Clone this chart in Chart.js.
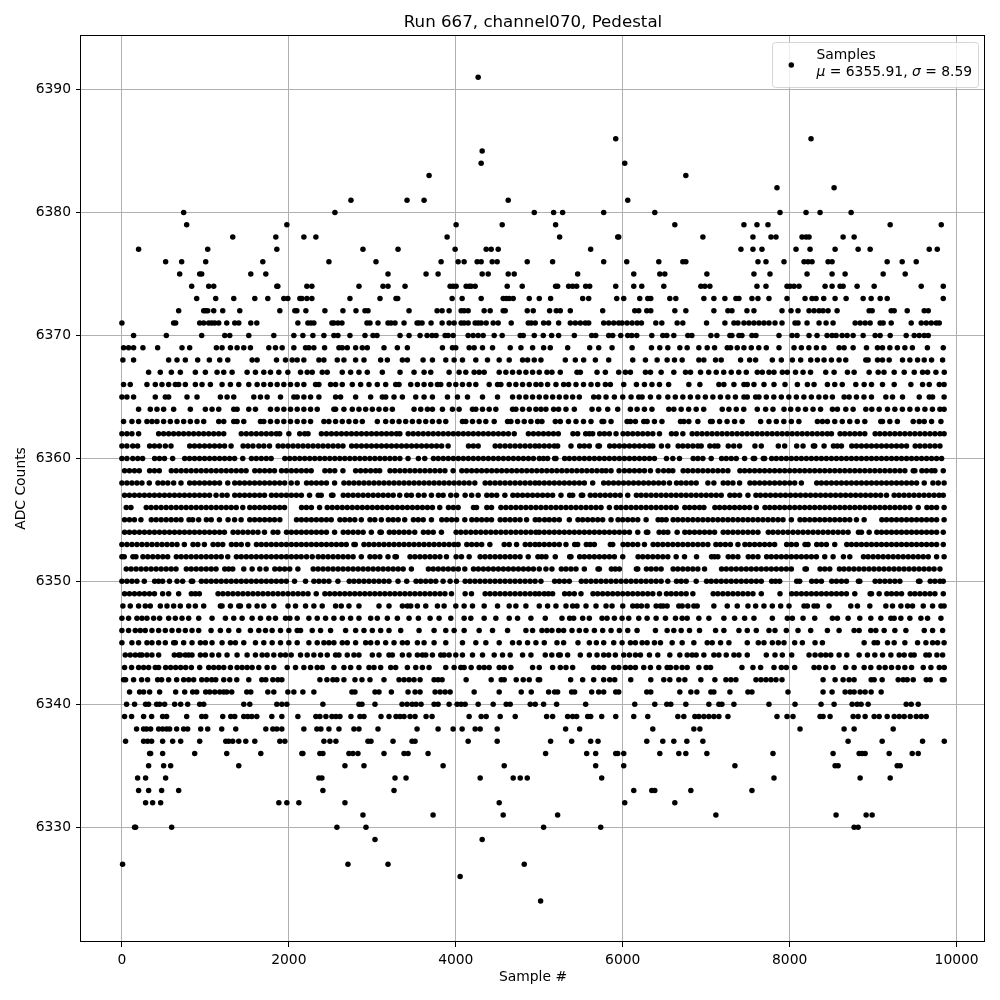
<!DOCTYPE html>
<html>
<head>
<meta charset="utf-8">
<title>Run 667, channel070, Pedestal</title>
<script src="https://cdn.jsdelivr.net/npm/chart.js@4"></script>
<style>
  html, body { margin: 0; padding: 0; background: #fff; }
  canvas { display: block; }
</style>
</head>
<body>
<canvas id="myChart" width="1000" height="1000"></canvas>
<script>
const xTickValues = [0, 2000, 4000, 6000, 8000, 10000];
const yTickValues = [6330, 6340, 6350, 6360, 6370, 6380, 6390];
const seriesLabel = "Samples";
const muText = "6355.91";
const sigmaText = "8.59";

// sample numbers, one list per ADC level
const s6391 = [4268];
const s6386 = [5916,8256];
const s6385 = [4316];
const s6384 = [4304,6024];
const s6383 = [3680,6756];
const s6382 = [7848,8532];
const s6381 = [2744,3416,3620,4628,6060];
const s6380 = [740,2552,4940,5172,5280,5772,6384,7884,8196,8364,8736];
const s6379 = [776,1976,4004,4556,5196,6624,7452,7608,7740,9204,9816];
const s6378 = [1328,1844,2180,2324,3896,5244,5940,5952,6960,7560,7776,7836,8148,8196,8232,8640,8772];
const s6377 = [200,1028,1856,2888,3308,3992,4364,4424,4508,5616,7416,7560,7668,8076,8244,8544,8820,8964,9672,9768];
const s6376 = [524,716,1004,1688,2480,3044,3824,4028,4100,4256,4304,4436,4496,4856,5160,5772,6048,6432,6720,6756,7620,7716,7932,8172,8220,8268,8460,8508,9168,9348,9516];
const s6375 = [692,932,956,1544,1724,3188,3644,3788,4316,4388,4628,4700,5460,6132,6444,6504,7008,7572,7764,8208,8508,8664,9120,9384];
const s6374 = [836,1040,1100,1856,1868,2216,2276,2840,3128,3188,3392,3932,3968,4004,4124,4160,4184,4232,4616,4796,5196,5220,5352,5400,5448,5556,5604,5916,6132,6228,6492,6936,6984,7044,7608,7716,7968,8004,8052,8112,8424,8508,8604,8640,8808,9012,9576,9840];
const s6373 = [896,1124,1340,1592,1748,1940,1988,2132,2156,2216,2276,2732,3092,3284,3304,3956,4076,4304,4568,4604,4640,4688,4880,5000,5136,5520,5592,5928,6012,6204,6300,6336,6564,6636,6972,7092,7224,7356,7392,7548,7620,7752,7968,8184,8268,8316,8408,8544,8676,8880,8976,9084,9168,9840];
const s6372 = [680,980,1004,1028,1100,1208,1412,1892,2072,2096,2204,2432,2648,2804,2912,2948,3440,3776,3836,3920,4064,4100,4148,4340,4412,4568,4592,4856,4928,5124,5204,5252,5372,5760,6144,6192,6288,6336,6624,6756,7092,7260,7308,7488,7572,7908,8016,8100,8232,8292,8352,8400,8460,8568,8952,8988,9216,9252,9408,9612,9660];
const s6371 = [0,620,644,932,980,1040,1076,1112,1160,1256,1352,1400,1544,1616,2108,2228,2264,2300,2516,2540,2588,2636,2936,2972,3068,3188,3224,3272,3380,3536,3560,3596,3704,3836,3920,3980,4064,4100,4148,4232,4268,4304,4364,4448,4508,4664,4868,4904,4952,5052,5112,5232,5372,5432,5492,5552,5592,5772,5832,5892,5952,5992,6052,6112,6172,6224,6396,6468,6652,6720,7004,7224,7332,7380,7452,7512,7572,7632,7692,7752,7824,7908,8064,8100,8208,8352,8436,8520,8784,8844,8904,8964,9084,9120,9216,9456,9576,9636,9696,9756,9792];
const s6370 = [140,532,956,1232,1292,1520,1820,2060,2168,2288,2420,2540,2588,2732,2912,3008,3056,3332,3440,3572,3656,3716,3764,3872,3908,3968,4148,4208,4268,4328,4460,4556,4772,4808,4940,5048,5148,5232,5420,5628,5676,5832,5880,5976,6060,6108,6168,6348,6480,6528,6612,6780,6828,7056,7128,7284,7308,7392,7428,7548,7596,7872,8028,8088,8232,8328,8448,8508,8556,8628,8688,8760,8880,9024,9084,9204,9396,9492,9552,9612,9660];
const s6369 = [20,80,140,252,428,720,812,1132,1200,1300,1380,1460,1540,1760,1840,1920,2060,2200,2240,2300,2428,2600,2640,2700,2800,2880,2940,3140,3300,3420,3840,3960,4000,4160,4220,4320,4440,4652,4780,4920,5052,5132,5340,5604,5712,5872,6112,6344,6444,6540,6684,6772,6912,7012,7100,7252,7292,7372,7452,7540,7630,7720,7872,8052,8140,8230,8320,8410,8592,8652,8760,8920,9052,9112,9200,9290,9380,9470,9650,9840];
const s6368 = [12,140,560,660,760,908,1048,1172,1268,1560,1620,1852,1960,2040,2100,2180,2360,2420,2580,2660,2800,2900,3100,3180,3360,3420,3608,3720,3880,3980,4080,4240,4380,4520,4640,4800,4860,4940,5020,5312,5432,5532,5672,5832,6120,6272,6412,6532,6620,6712,6912,6972,7112,7180,7412,7520,7592,7792,7900,8032,8132,8252,8332,8412,8500,8592,8672,8940,8912,9052,9112,9192,9352,9440,9532,9612,9700,9832];
const s6367 = [320,460,592,700,880,1000,1140,1220,1320,1500,1600,1700,1780,1880,1988,2140,2220,2280,2400,2460,2640,2740,2840,2940,3120,3332,3500,3620,3700,3920,4040,4120,4220,4280,4340,4520,4600,4680,4760,4840,4920,5000,5092,5152,5252,5452,5492,5692,5792,5952,6032,6092,6272,6332,6460,6612,6752,6812,6932,7030,7120,7210,7300,7390,7480,7612,7672,7752,7812,7912,7972,8070,8160,8250,8432,8532,8692,8772,8952,9060,9130,9252,9372,9492,9592,9652,9752,9852];
const s6366 = [20,100,300,400,480,560,640,680,760,880,960,1060,1200,1300,1400,1520,1620,1700,1780,1860,1940,2020,2100,2180,2320,2360,2500,2560,2640,2760,2860,2960,3060,3160,3280,3320,3460,3540,3620,3700,3780,3820,3920,4000,4080,4160,4240,4400,4500,4540,4640,4720,4800,4880,4960,5020,5100,5200,5292,5352,5440,5530,5620,5700,5792,5852,6012,6164,6260,6350,6440,6550,6792,6924,7152,7212,7332,7452,7492,7572,7692,7812,7944,8092,8212,8292,8452,8540,8630,8792,8892,8980,9112,9252,9452,9592,9672,9792,9850];
const s6365 = [0,60,140,400,520,560,780,900,1180,1260,1340,1580,1660,1740,1900,2060,2100,2180,2260,2360,2560,2620,2800,2980,3120,3160,3260,3360,3520,3620,3720,3900,4020,4140,4320,4500,4680,4760,4840,4920,5000,5080,5160,5240,5320,5400,5480,5652,5712,5800,5900,6000,6100,6192,6232,6332,6432,6540,6630,6720,6810,6900,6990,7080,7170,7260,7350,7452,7492,7592,7632,7720,7810,7900,7990,8080,8170,8260,8350,8430,8512,8652,8712,8800,8890,8980,9152,9232,9352,9552,9672,9712,9850];
const s6364 = [200,340,420,500,620,820,1000,1080,1160,1340,1380,1520,1600,1780,1860,1940,2020,2100,2180,2260,2340,2540,2560,2660,2760,2840,2920,3000,3080,3160,3240,3500,3580,3660,3720,3840,3960,4040,4200,4240,4320,4400,4480,4680,4720,4800,4880,4960,5020,5080,5172,5232,5320,5420,5632,5712,5820,5940,6092,6172,6260,6350,6552,6612,6700,6790,6880,6970,7192,7272,7360,7450,7612,7712,7800,7932,8012,8100,8190,8280,8370,8512,8572,8672,8760,8912,8984,9072,9172,9260,9350,9440,9530,9620,9710,9800,9850];
const s6363 = [20,120,200,300,360,420,500,580,660,740,820,900,980,1160,1220,1340,1380,1460,1660,1700,1780,1860,1940,2020,2100,2180,2260,2420,2480,2560,2640,2720,2800,2880,3060,3160,3240,3320,3400,3480,3560,3640,3720,3800,3880,4080,4120,4200,4280,4360,4460,4620,4660,4740,4820,4900,4980,5032,5192,5252,5350,5440,5530,5620,5752,5772,5860,6052,6092,6152,6252,6292,6380,6470,6692,6732,6792,6900,7052,7072,7160,7250,7340,7430,7652,7752,7840,7930,8020,8110,8332,8392,8452,8540,8630,8720,8810,8900,9092,9112,9200,9290,9480,9552,9612,9700,9812];
const s6362 = [0,60,120,200,440,500,560,620,680,740,800,860,920,980,1040,1100,1160,1220,1430,1490,1550,1610,1670,1730,1790,1850,1890,2000,2130,2190,2230,2390,2450,2510,2570,2630,2690,2750,2810,2870,2930,2990,3050,3110,3170,3230,3290,3330,3430,3490,3550,3610,3670,3730,3790,3850,3910,3970,4030,4090,4150,4210,4270,4330,4390,4450,4510,4570,4630,4700,4870,4930,4990,5050,5110,5170,5228,5404,5460,5556,5600,5640,5724,5780,5840,5920,6004,6060,6120,6180,6240,6300,6360,6440,6584,6640,6720,6832,6890,6950,7010,7070,7130,7190,7250,7310,7370,7430,7490,7550,7610,7670,7730,7790,7850,7910,7970,8030,8090,8150,8210,8270,8330,8390,8450,8500,8604,8660,8720,8780,8840,8900,9024,9080,9140,9200,9260,9320,9380,9440,9500,9560,9620,9680,9740,9800,9850];
const s6361 = [0,60,130,188,332,390,450,520,588,812,870,930,990,1050,1110,1170,1230,1308,1452,1510,1570,1640,1700,1768,1872,1930,1990,2050,2110,2170,2230,2290,2350,2410,2470,2530,2590,2648,2752,2810,2870,2930,2990,3050,3110,3170,3230,3290,3350,3410,3470,3530,3590,3650,3710,3770,3830,3908,4152,4210,4268,4472,4530,4590,4650,4710,4770,4830,4890,4950,5000,5060,5120,5180,5220,5380,5484,5540,5600,5704,5720,5844,5900,5960,6020,6080,6140,6200,6260,6320,6360,6464,6540,6664,6720,6780,6840,6900,6940,7044,7100,7140,7264,7330,7400,7584,7660,7864,7940,8084,8160,8284,8300,8412,8524,8570,8620,8744,8800,8860,8920,8980,9040,9100,9160,9220,9280,9340,9400,9504,9560,9620,9680,9740,9800];
const s6360 = [0,60,130,190,248,392,450,510,608,752,810,870,930,990,1050,1110,1170,1230,1290,1350,1448,1552,1610,1670,1730,1788,1952,2010,2070,2130,2190,2250,2310,2370,2430,2490,2550,2610,2670,2730,2790,2850,2910,2970,3030,3090,3150,3210,3270,3330,3428,3552,3628,3732,3790,3850,3910,3970,4030,4090,4150,4210,4270,4330,4390,4450,4510,4570,4630,4690,4750,4810,4870,4930,5000,5050,5100,5184,5200,5304,5360,5420,5480,5540,5600,5660,5720,5780,5840,5900,5960,6020,6080,6140,6200,6260,6320,6380,6524,6600,6680,6844,6900,6960,7060,7184,7240,7300,7360,7460,7564,7580,7684,7700,7784,7840,7900,7960,8020,8080,8140,8200,8260,8320,8380,8440,8500,8560,8620,8680,8740,8800,8860,8920,8980,9040,9100,9160,9220,9280,9340,9400,9460,9520,9580,9640,9700,9760,9820];
const s6359 = [32,90,150,208,332,390,448,592,650,710,770,830,890,950,1010,1070,1130,1190,1250,1310,1370,1430,1488,1592,1650,1710,1770,1828,1912,1970,2030,2090,2150,2210,2268,2432,2490,2550,2648,2800,2860,2920,2980,3040,3088,3212,3270,3330,3390,3450,3510,3570,3630,3690,3750,3810,3870,3968,4072,4130,4190,4250,4310,4370,4430,4490,4550,4610,4670,4730,4790,4850,4910,4970,5030,5090,5150,5210,5270,5330,5390,5450,5510,5570,5630,5690,5750,5800,5860,5956,6020,6080,6140,6200,6260,6332,6424,6490,6550,6600,6724,6780,6840,6900,6960,7020,7080,7140,7200,7260,7404,7460,7520,7580,7640,7700,7760,7820,7880,7940,8000,8060,8120,8180,8240,8300,8360,8420,8480,8540,8600,8660,8720,8780,8840,8900,8960,9020,9080,9140,9200,9260,9320,9380,9480,9500,9584,9640,9700,9740,9840];
const s6358 = [0,60,120,180,240,328,432,490,550,620,708,812,870,930,990,1050,1110,1170,1268,1352,1410,1470,1530,1590,1650,1710,1770,1830,1890,1950,2028,2100,2212,2270,2330,2390,2450,2548,2660,2720,2780,2840,2900,2960,3020,3080,3140,3200,3260,3320,3380,3440,3500,3560,3620,3680,3740,3800,3860,3920,3980,4040,4100,4160,4228,4352,4410,4470,4530,4590,4650,4710,4770,4830,4890,4950,5000,5060,5120,5180,5240,5300,5360,5420,5480,5540,5640,5772,5830,5890,5950,6010,6070,6130,6190,6250,6310,6370,6430,6490,6560,6644,6700,6760,6820,6880,7020,7092,7204,7260,7320,7400,7524,7580,7640,7700,7760,7820,7880,7940,8000,8060,8140,8324,8380,8440,8500,8560,8620,8680,8740,8800,8860,8920,8980,9040,9100,9160,9220,9280,9340,9400,9460,9520,9612,9716,9780,9850];
const s6357 = [32,90,150,210,270,330,390,450,510,570,630,690,750,810,870,930,990,1050,1128,1200,1260,1352,1410,1470,1530,1590,1650,1708,1792,1850,1910,1970,2030,2090,2150,2248,2352,2388,2512,2528,2652,2710,2770,2830,2890,2950,3010,3070,3130,3190,3250,3328,3412,3468,3552,3620,3708,3792,3848,3940,4008,4112,4190,4268,4372,4430,4490,4588,4684,4740,4800,4860,4920,4980,5040,5100,5160,5260,5364,5400,5504,5520,5612,5670,5730,5790,5850,5910,5970,6060,6164,6220,6280,6340,6400,6460,6520,6580,6640,6700,6760,6820,6880,6940,7000,7060,7120,7180,7284,7340,7400,7500,7596,7650,7710,7770,7830,7890,7950,8010,8070,8130,8190,8250,8310,8370,8430,8490,8550,8610,8670,8730,8790,8850,8910,8970,9030,9090,9160,9252,9310,9370,9430,9490,9550,9610,9670,9730,9790,9840];
const s6356 = [52,108,292,350,410,470,530,590,650,710,770,830,890,950,1010,1070,1130,1190,1250,1310,1370,1448,1532,1590,1650,1710,1770,1830,1890,1948,2152,2210,2270,2368,2460,2520,2580,2640,2700,2760,2820,2880,2940,3000,3060,3120,3180,3240,3300,3360,3420,3480,3540,3600,3660,3720,3808,3912,3970,4028,4212,4248,4372,4428,4540,4600,4660,4720,4780,4840,4900,4960,5020,5080,5140,5200,5260,5320,5380,5440,5500,5560,5620,5680,5740,5840,5924,5980,6040,6100,6160,6220,6280,6340,6400,6460,6520,6580,6640,6744,6800,6860,6920,6972,7104,7160,7220,7280,7340,7400,7460,7520,7600,7704,7760,7820,7880,7940,8000,8060,8120,8180,8240,8300,8360,8420,8480,8540,8600,8660,8720,8780,8840,8900,8960,9020,9080,9140,9200,9260,9320,9380,9440,9540,9644,9700,9760,9850];
const s6355 = [32,90,150,228,352,410,470,530,590,650,708,804,848,920,1012,1070,1168,1272,1350,1428,1532,1590,1650,1710,1770,1828,1892,2092,2150,2210,2270,2330,2390,2450,2508,2612,2670,2730,2790,2868,2972,3030,3108,3192,3250,3310,3388,3492,3550,3610,3708,3832,3890,3950,4010,4108,4192,4250,4310,4370,4428,4532,4590,4650,4710,4770,4848,4952,5000,5064,5120,5180,5240,5360,5464,5520,5580,5640,5700,5760,5860,5944,6000,6060,6120,6180,6280,6424,6470,6520,6604,6660,6720,6780,6840,6900,6960,7020,7080,7140,7200,7260,7320,7380,7440,7500,7560,7620,7680,7740,7800,7860,7920,8020,8124,8180,8240,8300,8360,8420,8480,8540,8600,8660,8720,8800,8892,9104,9160,9220,9280,9340,9400,9460,9520,9580,9640,9700,9760,9850];
const s6354 = [32,90,150,210,270,330,390,450,510,570,630,690,750,810,870,930,990,1050,1110,1170,1228,1332,1390,1450,1510,1570,1630,1708,1812,1868,1972,2030,2090,2150,2210,2270,2330,2390,2450,2548,2652,2710,2770,2830,2890,2988,3092,3108,3204,3260,3320,3380,3440,3508,3612,3670,3730,3828,4004,4060,4120,4180,4240,4300,4360,4420,4480,4540,4600,4660,4720,4780,4840,4900,4960,5000,5060,5120,5180,5240,5300,5360,5420,5480,5540,5600,5660,5720,5780,5840,5900,5960,6020,6080,6180,6284,6300,6436,6490,6540,6652,6744,6800,6860,6920,6980,7040,7100,7204,7260,7320,7380,7440,7500,7560,7620,7744,7800,7860,7920,7980,8040,8100,8160,8220,8280,8340,8400,8460,8520,8580,8640,8700,8824,8860,8952,9044,9100,9160,9220,9280,9340,9400,9460,9520,9580,9640,9700,9760,9840];
const s6353 = [0,60,120,180,240,300,360,420,480,540,600,660,748,852,910,988,1092,1150,1208,1312,1370,1430,1508,1612,1670,1730,1790,1850,1910,1970,2030,2090,2150,2210,2270,2330,2390,2450,2510,2570,2630,2688,2780,2796,2900,2960,3020,3080,3140,3200,3260,3320,3380,3440,3500,3560,3620,3680,3740,3800,3860,3920,3980,4028,4132,4190,4250,4310,4408,4580,4640,4728,4832,4890,4950,5000,5060,5120,5180,5240,5320,5424,5460,5564,5610,5660,5852,5880,6004,6060,6120,6180,6260,6364,6420,6480,6540,6600,6660,6720,6780,6840,6900,6960,7020,7116,7170,7230,7290,7380,7464,7520,7580,7640,7700,7760,7820,7964,8020,8080,8184,8220,8324,8380,8440,8540,8684,8740,8800,8860,8920,8980,9040,9100,9160,9220,9280,9340,9400,9460,9520,9580,9640,9700,9760,9840];
const s6352 = [0,28,132,168,252,310,370,430,490,548,652,710,770,830,890,950,1010,1070,1130,1190,1268,1372,1430,1490,1550,1610,1670,1730,1790,1850,1910,1970,2030,2090,2148,2212,2280,2352,2410,2470,2530,2590,2650,2710,2770,2868,2972,3030,3090,3188,3272,3288,3452,3510,3570,3630,3690,3750,3810,3888,4004,4068,4160,4292,4350,4410,4470,4530,4590,4650,4710,4770,4868,4984,5030,5080,5192,5364,5380,5484,5540,5600,5660,5720,5780,5840,5900,6000,6184,6240,6300,6360,6420,6480,6540,6640,6740,6884,7064,7100,7140,7264,7320,7380,7504,7560,7620,7724,7780,7840,7900,7960,8020,8080,8140,8200,8260,8320,8420,8520,8644,8720,8884,8940,9000,9060,9120,9180,9240,9300,9360,9420,9480,9540,9600,9660,9760,9850];
const s6351 = [52,110,170,230,290,350,410,470,530,590,648,772,830,890,950,1010,1070,1128,1232,1280,1328,1460,1560,1652,1728,1832,1890,1950,2010,2108,2292,2350,2410,2470,2530,2590,2650,2710,2770,2830,2890,2950,3010,3070,3130,3190,3250,3310,3370,3468,3672,3730,3790,3850,3910,3970,4030,4108,4212,4270,4330,4390,4450,4510,4570,4630,4690,4750,4810,4870,4930,5000,5080,5152,5264,5320,5380,5440,5540,5704,5720,5864,5910,5960,6164,6180,6284,6340,6400,6460,6604,6660,6720,6780,6840,6900,6980,7184,7240,7300,7360,7420,7480,7540,7600,7660,7720,7780,7840,7900,7960,8020,8184,8200,8364,8420,8480,8596,8650,8710,8770,8830,8890,8950,9010,9070,9130,9190,9250,9310,9370,9430,9490,9550,9610,9670,9730,9800];
const s6350 = [0,60,120,180,268,392,440,488,570,660,728,832,848,952,1010,1070,1130,1190,1250,1310,1370,1430,1490,1550,1610,1670,1730,1790,1850,1910,1970,2068,2200,2300,2360,2420,2480,2588,2724,2780,2840,2900,2960,3020,3080,3140,3200,3308,3412,3524,3580,3640,3700,3760,3848,3932,4008,4112,4170,4230,4290,4350,4410,4470,4530,4590,4650,4710,4770,4830,4890,4950,5020,5184,5240,5300,5360,5504,5560,5620,5680,5740,5800,5860,5920,5980,6040,6100,6160,6220,6280,6340,6400,6460,6540,6644,6700,6760,6880,7004,7060,7120,7180,7240,7300,7360,7420,7480,7540,7600,7660,7784,7830,7880,8084,8120,8264,8320,8380,8504,8560,8620,8680,8824,8840,9024,9080,9140,9200,9260,9320,9544,9560,9684,9740,9800,9840];
const s6349 = [32,90,150,210,270,330,390,488,560,680,832,880,928,1152,1210,1270,1330,1390,1450,1510,1570,1630,1690,1750,1810,1870,1930,1990,2050,2110,2170,2230,2328,2432,2490,2550,2610,2670,2730,2790,2850,2910,2970,3030,3090,3150,3210,3270,3330,3390,3450,3510,3570,3630,3690,3750,3810,3870,3948,4112,4188,4352,4410,4470,4530,4590,4650,4710,4770,4830,4890,4950,5000,5060,5110,5160,5304,5360,5420,5500,5644,5700,5760,5820,5880,5940,6000,6060,6120,6180,6240,6300,6360,6440,6524,6580,6640,6700,6760,6840,7084,7140,7200,7260,7320,7380,7440,7500,7560,7660,7884,8024,8080,8140,8200,8260,8320,8380,8440,8500,8560,8620,8680,8780,8964,8980,9072,9164,9220,9280,9340,9444,9500,9560,9620,9680,9740,9840];
const s6348 = [12,100,200,280,340,460,540,620,700,800,880,980,1180,1200,1300,1400,1420,1520,1620,1700,1820,1990,2080,2200,2300,2400,2560,2628,2720,2840,3080,3200,3360,3420,3460,3540,3640,3780,3860,4000,4100,4200,4340,4500,4640,4720,4840,5000,5100,5200,5320,5400,5452,5560,5680,5800,5872,6000,6120,6172,6224,6292,6400,6452,6484,6532,6672,6712,6780,6852,6892,7092,7252,7372,7500,7592,7692,7792,7892,7992,8172,8212,8292,8332,8472,8732,8812,8960,9152,9232,9332,9412,9472,9600,9712,9812,9850];
const s6347 = [0,80,180,240,300,380,452,560,640,720,800,920,1080,1240,1340,1440,1560,1660,1760,1840,1960,2012,2100,2240,2340,2440,2540,2640,2740,2840,2980,3060,3180,3300,3440,3552,3692,3800,3940,4100,4180,4340,4480,4640,4740,4900,5072,5272,5364,5412,5520,5600,5752,5812,5900,5992,6072,6192,6292,6400,6512,6632,6712,6772,6912,7032,7212,7340,7460,7572,7792,7972,8032,8160,8300,8512,8572,8700,8840,8972,9092,9212,9252,9332,9440,9572,9652,9812];
const s6346 = [0,80,160,220,280,360,440,520,600,680,760,840,920,1068,1180,1280,1400,1540,1640,1720,1800,1900,2000,2100,2140,2280,2380,2500,2680,2800,2900,3000,3100,3200,3340,3560,3740,3880,3980,4100,4280,4440,4620,4840,4920,5032,5092,5152,5232,5292,5392,5480,5560,5660,5760,5860,5960,6060,6172,6392,6532,6612,6700,6800,6920,7112,7212,7392,7492,7600,7752,7824,7960,8100,8252,8452,8592,8772,8832,8972,9032,9132,9260,9392,9612,9712,9832];
const s6345 = [0,120,200,300,360,440,520,620,640,740,840,940,1000,1080,1200,1300,1360,1460,1600,1700,1800,1900,2000,2100,2240,2340,2420,2480,2540,2640,2700,2800,2920,2980,3060,3160,3260,3360,3420,3540,3620,3740,3880,4080,4240,4360,4520,4680,4760,4860,4960,5060,5212,5292,5464,5600,5684,5772,5892,5992,6092,6152,6232,6292,6380,6452,6592,6712,6852,7012,7072,7172,7272,7492,7624,7692,7792,7864,7932,8060,8152,8304,8392,8892,9012,9052,9172,9252,9380,9532,9632,9712,9772,9850];
const s6344 = [40,100,160,212,240,300,360,440,628,680,700,760,800,840,940,1000,1080,1160,1260,1380,1500,1600,1680,1740,1820,1900,1960,2028,2140,2220,2300,2380,2460,2560,2600,2700,2780,2840,3000,3080,3200,3240,3360,3440,3540,3600,3640,3720,3820,3860,3920,4000,4080,4200,4320,4460,4560,4652,4800,4900,5072,5150,5232,5252,5340,5492,5600,5692,5772,5832,5912,6012,6080,6152,6212,6320,6420,6564,6684,6772,6832,6880,6972,7092,7152,7240,7332,7392,7492,7720,7824,7912,8024,8232,8304,8372,8432,8492,8592,8684,8832,8932,9020,9112,9212,9312,9372,9452,9492,9632,9672,9764,9832];
const s6343 = [32,116,200,260,320,400,440,524,584,644,704,764,832,932,1040,1100,1160,1220,1300,1380,1440,1500,1560,1640,1740,1820,1980,2080,2180,2260,2340,2400,2540,2660,2740,2840,2960,3020,3100,3220,3280,3420,3520,3600,3680,3880,3980,4060,4100,4184,4280,4340,4400,4520,4580,4660,4920,5000,5160,5252,5320,5400,5652,5712,5772,5892,5952,6032,6092,6152,6252,6332,6432,6532,6572,6640,6712,6772,6912,7000,7052,7428,7560,7652,7812,7900,7960,8060,8292,8352,8432,8520,8672,8772,8892,8972,9072,9144,9220,9300,9380,9460,9600,9692,9792,9852];
const s6342 = [20,44,140,236,308,428,476,560,656,740,800,860,956,1016,1076,1124,1220,1292,1376,1520,1676,1724,1808,1868,1916,2372,2456,2528,2576,2660,2792,2876,2972,3140,3320,3380,3440,3500,3572,3740,3788,3836,4124,4424,4544,4580,4724,4808,4880,4988,5004,5376,5520,5652,5772,5844,5904,6096,6336,6492,6564,6672,6744,6936,7104,7236,7296,7356,7596,7656,7716,7776,7836,7908,8400,8544,8640,8712,8772,8976,9012,9108,9300,9360,9408,9480,9636,9684,9828,9850];
const s6341 = [92,212,260,332,452,644,752,848,896,1004,1052,1112,1172,1220,1256,1316,1496,1544,1748,1820,1988,2060,2168,2300,2756,2792,3032,3080,3228,3428,3512,3572,3752,3812,3872,3932,4220,4520,4784,4904,5112,5184,5220,5388,5424,5628,5712,5772,5916,5952,6288,6336,6684,6816,6888,7056,7092,7284,7500,7548,7980,8400,8508,8664,8724,8772,8844,8904,8976,9096];
const s6340 = [56,152,284,320,416,452,512,632,704,788,932,980,1460,1532,1856,1916,1976,2408,2840,2876,3032,3356,3416,3476,3524,3584,3740,3788,3920,4016,4064,4112,4268,4448,4604,4652,4892,4952,5052,5208,5556,6144,6384,6528,6576,6756,7032,7152,7188,7332,7752,8064,8376,8532,8748,8808,8856,8940,9396,9456,9540];
const s6339 = [32,116,260,356,488,536,776,956,1004,1208,1304,1352,1460,1508,1556,1616,1796,1916,2108,2324,2372,2444,2516,2564,2612,2744,2852,2900,3104,3200,3284,3332,3380,3452,3512,3644,3716,4160,4304,4364,4532,4712,5088,5160,5340,5400,5448,5580,5616,5748,5916,6132,6300,6660,6732,6864,6912,6972,7032,7092,7152,7260,7848,7968,8040,8364,8400,8484,8760,8820,8904,9012,9072,9168,9252,9312,9372,9444,9516,9576,9636];
const s6338 = [176,260,296,344,440,488,536,572,656,740,788,944,1028,1196,1364,1724,1808,1856,1916,2180,2336,2384,2480,2600,2780,2840,3068,3536,3788,3968,4076,4232,4292,4496,5316,5484,6360,6852,6924,8124,8652,8772,9240];
const s6337 = [44,260,308,356,488,608,704,932,1244,1280,1328,1400,1484,1592,1892,1952,2420,2492,2564,2948,2984,3248,3476,3512,4148,4496,5136,5388,5616,5704,6288,6480,6612,6768,6960,8700,9108,9592,9852];
const s6336 = [332,344,488,872,1256,1664,2156,2168,2372,2408,2720,2768,2828,3140,3380,3428,3668,5076,5568,5676,5916,5940,6012,6444,6672,6756,7008,7800,8520,8832,8868,8904,9192,9468,9540];
const s6335 = [320,500,584,1400,2672,2900,3848,4580,5676,6012,7344,8544,8580,9288,9324];
const s6334 = [188,284,524,2360,2396,3272,3404,4292,4688,4772,4856,5748,7812,8844,9204];
const s6333 = [200,320,476,680,2408,3260,6132,6348,6384,6816,7548];
const s6332 = [284,368,464,1880,1976,2120,2672,4520,6024,6624];
const s6331 = [2888,3728,4568,5220,7116,8556,8916,8988];
const s6330 = [152,164,596,2576,2924,5052,5736,8772,8820];
const s6329 = [3032,4316];
const s6327 = [8,2708,3188,4820];
const s6326 = [4052];
const s6324 = [5016];

const adcLevels = [6391,6386,6385,6384,6383,6382,6381,6380,6379,6378,6377,6376,6375,6374,6373,6372,6371,6370,6369,6368,6367,6366,6365,6364,6363,6362,6361,6360,6359,6358,6357,6356,6355,6354,6353,6352,6351,6350,6349,6348,6347,6346,6345,6344,6343,6342,6341,6340,6339,6338,6337,6336,6335,6334,6333,6332,6331,6330,6329,6327,6326,6324];
const levelSamples = [s6391,s6386,s6385,s6384,s6383,s6382,s6381,s6380,s6379,s6378,s6377,s6376,s6375,s6374,s6373,s6372,s6371,s6370,s6369,s6368,s6367,s6366,s6365,s6364,s6363,s6362,s6361,s6360,s6359,s6358,s6357,s6356,s6355,s6354,s6353,s6352,s6351,s6350,s6349,s6348,s6347,s6346,s6345,s6344,s6343,s6342,s6341,s6340,s6339,s6338,s6337,s6336,s6335,s6334,s6333,s6332,s6331,s6330,s6329,s6327,s6326,s6324];

const points = [];
adcLevels.forEach((level, i) => {
  levelSamples[i].forEach((sample) => points.push({ x: sample, y: level }));
});

// black box round the plot, legend inside it
const frameAndLegend = {
  id: "frameAndLegend",
  afterDatasetsDraw(chart) {
    const { ctx, chartArea } = chart;
    ctx.save();
    ctx.strokeStyle = "#000";
    ctx.lineWidth = 1;
    ctx.strokeRect(chartArea.left - 0.5, chartArea.top + 0.5, chartArea.width, chartArea.height - 1);

    ctx.beginPath();
    ctx.roundRect(772.5, 42.5, 206, 45, 3);
    ctx.fillStyle = "rgba(255,255,255,0.8)";
    ctx.fill();
    ctx.strokeStyle = "rgba(204,204,204,0.8)";
    ctx.stroke();

    ctx.fillStyle = "#000";
    ctx.beginPath();
    ctx.arc(791.3, 65, 2.75, 0, Math.PI * 2);
    ctx.fill();

    ctx.textBaseline = "alphabetic";
    ctx.font = "13.89px 'DejaVu Sans'";
    ctx.fillText(seriesLabel, 816.5, 59);
    let x = 816.5;
    const parts = [["italic", "μ"], ["normal", " = " + muText + ", "], ["italic", "σ"], ["normal", " = " + sigmaText]];
    parts.forEach(([style, text]) => {
      ctx.font = style + " 13.89px 'DejaVu Sans'";
      ctx.fillText(text, x, 76);
      x += ctx.measureText(text).width;
    });
    ctx.restore();
  },
};

Chart.defaults.font.family = "'DejaVu Sans'";
Chart.defaults.font.size = 13.89;
Chart.defaults.color = "#000";

const ctx = document.getElementById("myChart");
let myChart = new Chart(ctx, {
  type: "scatter",
  data: {
    datasets: [
      {
        label: seriesLabel,
        data: points,
        backgroundColor: "#000",
        borderWidth: 0,
        pointRadius: 2.75,
      },
    ],
  },
  options: {
    responsive: false,
    animation: false,
    layout: { padding: { top: 0, right: 15, bottom: 0, left: 0 } },
    scales: {
      x: {
        type: "linear",
        min: -490,
        max: 10340,
        afterBuildTicks(axis) {
          axis.ticks = xTickValues.map((v) => ({ value: v }));
        },
        afterFit(axis) {
          axis.height = 58;
        },
        ticks: { maxRotation: 0, padding: 5, callback: (v) => String(v) },
        grid: { color: "#b0b0b0", lineWidth: 1, tickColor: "#000", tickLength: 5 },
        border: { display: false },
        title: { display: true, text: "Sample #", padding: { top: 0, bottom: 14.7 } },
      },
      y: {
        type: "linear",
        min: 6320.67,
        max: 6394.43,
        afterBuildTicks(axis) {
          axis.ticks = yTickValues.map((v) => ({ value: v }));
        },
        afterFit(axis) {
          axis.width = 81;
        },
        ticks: { padding: 5, callback: (v) => String(v) },
        grid: { color: "#b0b0b0", lineWidth: 1, tickColor: "#000", tickLength: 5 },
        border: { display: false },
        title: { display: true, text: "ADC Counts", padding: { top: 12.7, bottom: 0 } },
      },
    },
    plugins: {
      legend: { display: false },
      tooltip: { enabled: false },
      title: {
        display: true,
        text: "Run 667, channel070, Pedestal",
        fullSize: false,
        font: { size: 16.67, weight: "normal" },
        padding: { top: 13, bottom: 2 },
      },
    },
  },
  plugins: [frameAndLegend],
});
</script>
</body>
</html>
